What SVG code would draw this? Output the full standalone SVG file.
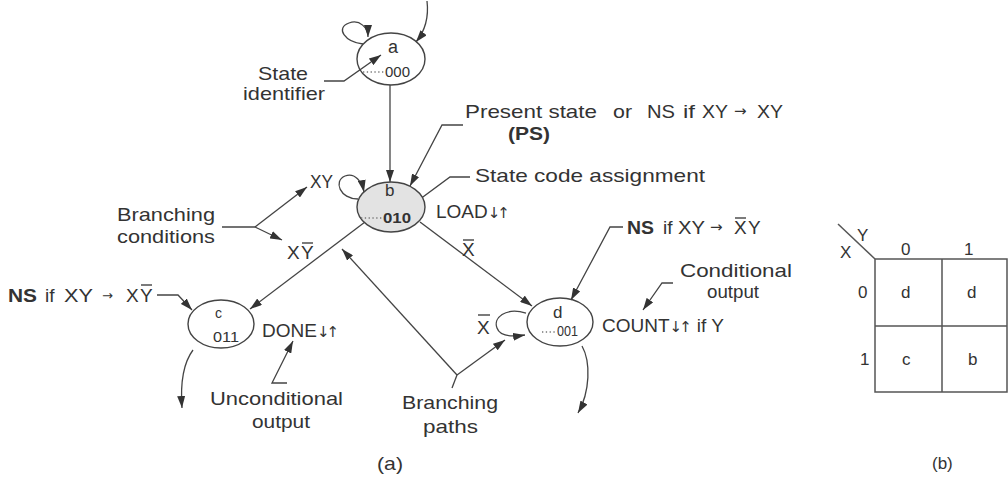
<svg xmlns="http://www.w3.org/2000/svg" width="1008" height="478" viewBox="0 0 1008 478">
<defs>
<marker id="ah" viewBox="0 0 12 8" refX="12" refY="4" markerWidth="12" markerHeight="8" markerUnits="userSpaceOnUse" orient="auto"><path d="M0,0 L12,4 L0,8 z" fill="#333"/></marker>
<style>
text{font-family:"Liberation Sans","DejaVu Sans",Arial,sans-serif;font-size:19px;fill:#333}
.b{font-weight:bold}
.s{font-size:14px}
.m{font-size:17px}
.ar{font-family:"DejaVu Sans",sans-serif;font-size:15px}
.ud{font-family:"DejaVu Sans",sans-serif;font-size:15px;letter-spacing:-3px}
.node{fill:none;stroke:#444;stroke-width:1.4}
.con path{fill:none;stroke:#444;stroke-width:1.3}
.arr{marker-end:url(#ah)}
.dots{stroke:#777;stroke-width:1.3;stroke-dasharray:1.3 2.5}
.bar{stroke:#333;stroke-width:1.3}
.grid{fill:none;stroke:#555;stroke-width:1.5}
</style>
</defs>
<rect width="1008" height="478" fill="#fff"/>

<g class="con" id="connectors">
<path class="arr" d="M427,1 C429,18 425,31 416,42"/>
<path class="arr" d="M363,44 C345,42 335,28 349,23 C360,19 368,28 368,37"/>
<path class="arr" d="M390,85 L390,182"/>
<path class="arr" d="M358,199 C340,199 333,181 345,176 C355,172 362,182 364,192"/>
<path class="arr" d="M365,222 L250,309"/>
<path class="arr" d="M420,222 L532,306"/>
<path class="arr" d="M526,313 C505,307 493,318 497,328 C500,337 512,337 525,335"/>
<path class="arr" d="M582,346 C591,362 590,392 578,413"/>
<path class="arr" d="M193,350 C184,362 180,380 182,408"/>
<path class="arr" d="M324,81 L344,81 L381,55"/>
<path class="arr" d="M463,125 L442,125 L410,186"/>
<path class="arr" d="M470,177 L450,177 L408,208"/>
<path d="M222,227 L255,227"/>
<path class="arr" d="M255,227 L307,187"/>
<path class="arr" d="M255,227 L282,240"/>
<path class="arr" d="M157,295 L178,295 L192,310"/>
<path class="arr" d="M287,383 L272,383 L293,341"/>
<path d="M452,388 L457,375"/>
<path class="arr" d="M457,375 L342,249"/>
<path class="arr" d="M457,375 L505,340"/>
<path class="arr" d="M623,227 L610,227 L571,300"/>
<path class="arr" d="M673,283 L662,283 L643,310"/>
</g>

<g id="node-a">
<ellipse class="node" cx="391" cy="59" rx="34" ry="26"/>
<text x="388" y="53" style="font-size:18px">a</text>
<line class="dots" x1="363" y1="72" x2="384" y2="72"/>
<text class="s" x="385" y="77" textLength="25" lengthAdjust="spacingAndGlyphs">000</text>
</g>

<g id="node-b">
<ellipse cx="391" cy="207" rx="34" ry="25" style="fill:#e3e3e3;stroke:#444;stroke-width:1.4"/>
<text class="m" x="385" y="196">b</text>
<line class="dots" x1="361" y1="218" x2="382" y2="218"/>
<text class="s b" x="383" y="223" textLength="28" lengthAdjust="spacingAndGlyphs">010</text>
</g>

<g id="node-c">
<ellipse class="node" cx="221" cy="324" rx="33" ry="24"/>
<text class="s" x="215" y="318">c</text>
<text class="s" x="213" y="342" textLength="26" lengthAdjust="spacingAndGlyphs">011</text>
</g>

<g id="node-d">
<ellipse class="node" cx="560" cy="322" rx="33" ry="24"/>
<text class="m" x="553" y="318">d</text>
<line class="dots" x1="542" y1="332" x2="556" y2="332"/>
<text class="s" x="557" y="336" textLength="21" lengthAdjust="spacingAndGlyphs">001</text>
</g>

<g id="labels">
<text x="258" y="80" textLength="50" lengthAdjust="spacingAndGlyphs">State</text>
<text x="243" y="100" textLength="82" lengthAdjust="spacingAndGlyphs">identifier</text>

<text x="465" y="118" textLength="132" lengthAdjust="spacingAndGlyphs">Present state</text>
<text x="613" y="118" textLength="19" lengthAdjust="spacingAndGlyphs">or</text>
<text x="647" y="118" textLength="28" lengthAdjust="spacingAndGlyphs">NS</text>
<text x="683" y="118" textLength="12" lengthAdjust="spacingAndGlyphs">if</text>
<text x="702" y="118" textLength="26" lengthAdjust="spacingAndGlyphs">XY</text>
<text class="ar" x="734" y="116">→</text>
<text x="757" y="118" textLength="26" lengthAdjust="spacingAndGlyphs">XY</text>
<text class="b" x="508" y="140" textLength="42" lengthAdjust="spacingAndGlyphs">(PS)</text>

<text x="475" y="182" textLength="230" lengthAdjust="spacingAndGlyphs">State code assignment</text>
<text x="436" y="218">LOAD<tspan class="ud">↓↑</tspan></text>
<text x="310" y="188" textLength="23" lengthAdjust="spacingAndGlyphs">XY</text>

<text x="117" y="221" textLength="98" lengthAdjust="spacingAndGlyphs">Branching</text>
<text x="117" y="243" textLength="98" lengthAdjust="spacingAndGlyphs">conditions</text>
<text x="287" y="259">X</text>
<text x="301" y="259">Y</text>
<line class="bar" x1="302" y1="243" x2="313" y2="243"/>

<text class="b" x="8" y="302" textLength="29" lengthAdjust="spacingAndGlyphs">NS</text>
<text x="45" y="302">if</text>
<text x="64" y="302" textLength="29" lengthAdjust="spacingAndGlyphs">XY</text>
<text class="ar" x="102" y="300" style="font-size:13px">→</text>
<text x="126" y="302">X</text>
<text x="140" y="302">Y</text>
<line class="bar" x1="141" y1="285" x2="152" y2="285"/>

<text x="262" y="337">DONE<tspan class="ud">↓↑</tspan></text>
<text x="210" y="405" textLength="133" lengthAdjust="spacingAndGlyphs">Unconditional</text>
<text x="252" y="428" textLength="58" lengthAdjust="spacingAndGlyphs">output</text>

<text x="402" y="409" textLength="96" lengthAdjust="spacingAndGlyphs">Branching</text>
<text x="423" y="433" textLength="55" lengthAdjust="spacingAndGlyphs">paths</text>
<text x="377" y="470" textLength="26" lengthAdjust="spacingAndGlyphs">(a)</text>

<text x="462" y="256">X</text>
<line class="bar" x1="463" y1="240" x2="474" y2="240"/>
<text x="477" y="334">X</text>
<line class="bar" x1="478" y1="315" x2="490" y2="315"/>

<text class="b" x="627" y="234" textLength="27" lengthAdjust="spacingAndGlyphs">NS</text>
<text x="663" y="234">if</text>
<text x="678" y="234" textLength="27" lengthAdjust="spacingAndGlyphs">XY</text>
<text class="ar" x="710" y="232">→</text>
<text x="734" y="234">X</text>
<text x="748" y="234">Y</text>
<line class="bar" x1="735" y1="218" x2="746" y2="218"/>

<text x="680" y="277" textLength="112" lengthAdjust="spacingAndGlyphs">Conditional</text>
<text x="707" y="298" textLength="52" lengthAdjust="spacingAndGlyphs">output</text>
<text x="602" y="332">COUNT<tspan class="ud">↓↑</tspan><tspan dx="8">if Y</tspan></text>
</g>

<g id="kmap">
<rect class="grid" x="875" y="259" width="132" height="133"/>
<line class="grid" x1="942" y1="259" x2="942" y2="392"/>
<line class="grid" x1="875" y1="326" x2="1007" y2="326"/>
<line class="grid" x1="838" y1="224" x2="875" y2="259"/>
<text class="m" x="857" y="241">Y</text>
<text class="m" x="840" y="258">X</text>
<text class="m" x="901" y="255">0</text>
<text class="m" x="964" y="255">1</text>
<text class="m" x="858" y="298">0</text>
<text class="m" x="860" y="365">1</text>
<text class="m" x="901" y="298">d</text>
<text class="m" x="967" y="298">d</text>
<text class="m" x="902" y="365">c</text>
<text class="m" x="968" y="365">b</text>
<text class="m" x="932" y="469">(b)</text>
</g>
</svg>
